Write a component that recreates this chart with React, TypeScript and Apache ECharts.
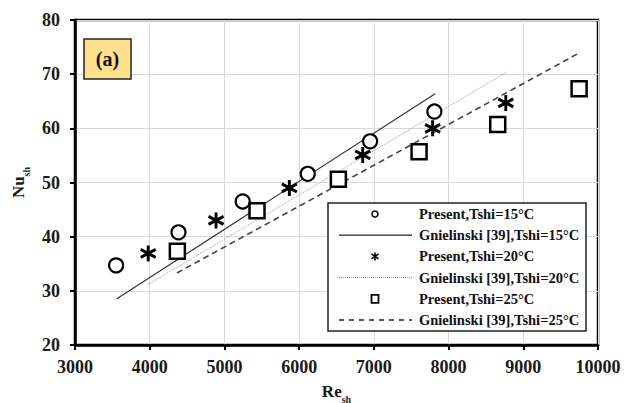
import React, { useEffect, useRef } from "react";
import * as echarts from "echarts";

// ---- data ----
const re15 = [3550, 4385, 5245, 6115, 6950, 7810];
const nu15 = [34.7, 40.8, 46.5, 51.6, 57.6, 63.1];
const re20 = [3980, 4888, 5869, 6851, 7787, 8766];
const nu20 = [36.9, 43.0, 49.0, 55.1, 60.0, 64.7];
const re25 = [4370, 5436, 6525, 7605, 8658, 9747];
const nu25 = [37.3, 44.8, 50.6, 55.7, 60.7, 67.3];

const gnRe15 = [3555, 7820];
const gnNu15 = [28.5, 66.4];
const gnRe20 = [3980, 8780];
const gnNu20 = [31.2, 70.4];
const gnRe25 = [4365, 9760];
const gnNu25 = [33.3, 74.0];

const seriesNames = [
  "Present,Tshi=15°C",
  "Gnielinski [39],Tshi=15°C",
  "Present,Tshi=20°C",
  "Gnielinski [39],Tshi=20°C",
  "Present,Tshi=25°C",
  "Gnielinski [39],Tshi=25°C",
];
const panelLabel = "(a)";

const FONT = "'Liberation Serif', 'Times New Roman', serif";
const STAR = "path://M0,-10L0,10M-9,-5L9,5M-9,5L9,-5";

const zip = (a: number[], b: number[]) => a.map((v, i) => [v, b[i]]);

export default function App() {
  const ref = useRef<HTMLDivElement>(null);
  useEffect(() => {
    if (!ref.current) return;
    const chart = echarts.init(ref.current, null, { renderer: "svg" });

    const lx = 328, ly = 203, lw = 258, lh = 128;
    const rowY = (i: number) => ly + 11 + i * 21.2;
    const symX = 375;
    const legendEls: any[] = [
      {
        type: "rect",
        shape: { x: lx, y: ly, width: lw, height: lh },
        style: { fill: "#fff", stroke: "#222", lineWidth: 1.5 },
        z: 10,
      },
      { type: "circle", shape: { cx: symX, cy: rowY(0), r: 3 }, style: { fill: "#fff", stroke: "#000", lineWidth: 1.5 }, z: 11 },
      { type: "line", shape: { x1: 339, y1: rowY(1), x2: 412, y2: rowY(1) }, style: { stroke: "#222", lineWidth: 1.3 }, z: 11 },
      { type: "line", shape: { x1: symX, y1: rowY(2) - 4, x2: symX, y2: rowY(2) + 4 }, style: { stroke: "#000", lineWidth: 1.6 }, z: 11 },
      { type: "line", shape: { x1: symX - 3.5, y1: rowY(2) - 2.5, x2: symX + 3.5, y2: rowY(2) + 2.5 }, style: { stroke: "#000", lineWidth: 1.6 }, z: 11 },
      { type: "line", shape: { x1: symX - 3.5, y1: rowY(2) + 2.5, x2: symX + 3.5, y2: rowY(2) - 2.5 }, style: { stroke: "#000", lineWidth: 1.6 }, z: 11 },
      { type: "line", shape: { x1: 339, y1: rowY(3), x2: 412, y2: rowY(3) }, style: { stroke: "#888", lineWidth: 1, lineDash: [1, 1] }, z: 11 },
      { type: "rect", shape: { x: symX - 3.5, y: rowY(4) - 4, width: 7, height: 8 }, style: { fill: "#fff", stroke: "#000", lineWidth: 1.8 }, z: 11 },
      { type: "line", shape: { x1: 339, y1: rowY(5), x2: 412, y2: rowY(5) }, style: { stroke: "#222", lineWidth: 1.5, lineDash: [5, 5] }, z: 11 },
      ...seriesNames.map((n, i) => ({
        type: "text",
        x: 419,
        y: rowY(i),
        style: {
          text: n,
          fill: "#111",
          font: `bold 14.5px ${FONT}`,
          verticalAlign: "middle",
          align: "left",
        },
        z: 11,
      })),
    ];

    const labelStyle = { fontFamily: FONT, fontWeight: "bold", fontSize: 18, color: "#1a1a1a" };
    const nameRich = {
      a: { fontFamily: FONT, fontWeight: "bold", fontSize: 17, color: "#1a1a1a", verticalAlign: "bottom" },
      b: { fontFamily: FONT, fontWeight: "bold", fontSize: 10, color: "#1a1a1a", verticalAlign: "bottom", padding: [0, 0, -4, 0] },
    };

    const option: any = {
      animation: false,
      backgroundColor: "#fff",
      grid: {
        left: 75,
        right: 36,
        top: 20,
        bottom: 58,
        outerBoundsMode: "none",
        containLabel: false,
        show: true,
        borderColor: "#000",
        borderWidth: 2.5,
        backgroundColor: "transparent",
      },
      xAxis: {
        type: "value",
        min: 3000,
        max: 10000,
        interval: 1000,
        name: "{a|Re}{b|sh}",
        nameLocation: "middle",
        nameGap: 38,
        nameTextStyle: { rich: nameRich },
        axisLine: { show: true, lineStyle: { color: "#000", width: 2.5 } },
        axisTick: { show: true, inside: false, length: 5, lineStyle: { color: "#000", width: 2 } },
        axisLabel: { ...labelStyle, margin: 13, formatter: (v: number) => String(v) },
        splitLine: { show: true, lineStyle: { color: "#d9d9d9", width: 1 } },
      },
      yAxis: {
        type: "value",
        min: 20,
        max: 80,
        interval: 10,
        name: "{a|Nu}{b|sh}",
        nameLocation: "middle",
        nameRotate: 90,
        nameGap: 36,
        nameTextStyle: { rich: nameRich },
        axisLine: { show: true, lineStyle: { color: "#000", width: 2.5 } },
        axisTick: { show: true, inside: false, length: 5, lineStyle: { color: "#000", width: 2 } },
        axisLabel: { ...labelStyle, margin: 15, formatter: (v: number) => String(v) },
        splitLine: { show: true, lineStyle: { color: "#d9d9d9", width: 1 } },
      },
      series: [
        {
          name: seriesNames[1],
          type: "line",
          data: zip(gnRe15, gnNu15),
          symbol: "none",
          lineStyle: { color: "#333", width: 1.2, type: "solid" },
          z: 2,
        },
        {
          name: seriesNames[3],
          type: "line",
          data: zip(gnRe20, gnNu20),
          symbol: "none",
          lineStyle: { color: "#999", width: 1, type: [1, 1] },
          z: 2,
        },
        {
          name: seriesNames[5],
          type: "line",
          data: zip(gnRe25, gnNu25),
          symbol: "none",
          lineStyle: { color: "#444", width: 1.6, type: [6, 4] },
          z: 2,
        },
        {
          name: seriesNames[0],
          type: "scatter",
          data: zip(re15, nu15),
          symbol: "circle",
          symbolSize: 14,
          itemStyle: { color: "#fff", borderColor: "#000", borderWidth: 2.2, opacity: 1 },
          z: 3,
        },
        {
          name: seriesNames[2],
          type: "scatter",
          data: zip(re20, nu20),
          symbol: STAR,
          symbolSize: [15, 16],
          itemStyle: { color: "#000", borderColor: "#000", borderWidth: 3, opacity: 1 },
          z: 3,
        },
        {
          name: seriesNames[4],
          type: "scatter",
          data: zip(re25, nu25),
          symbol: "rect",
          symbolSize: 15,
          itemStyle: { color: "#fff", borderColor: "#000", borderWidth: 2.5, opacity: 1 },
          z: 3,
        },
      ],
      graphic: [
        {
          type: "rect",
          shape: { x: 84, y: 39, width: 47, height: 40 },
          style: { fill: "#FFE08C", stroke: "#222", lineWidth: 1.5 },
          z: 10,
        },
        {
          type: "text",
          x: 107.5,
          y: 59,
          style: {
            text: panelLabel,
            fill: "#111",
            font: `bold 20px ${FONT}`,
            align: "center",
            verticalAlign: "middle",
          },
          z: 11,
        },
        ...legendEls,
      ],
    };
    chart.setOption(option);
    return () => chart.dispose();
  }, []);

  return (
    <div
      ref={ref}
      style={{ position: "fixed", left: 0, top: 0, width: 634, height: 403, background: "#fff" }}
    />
  );
}
